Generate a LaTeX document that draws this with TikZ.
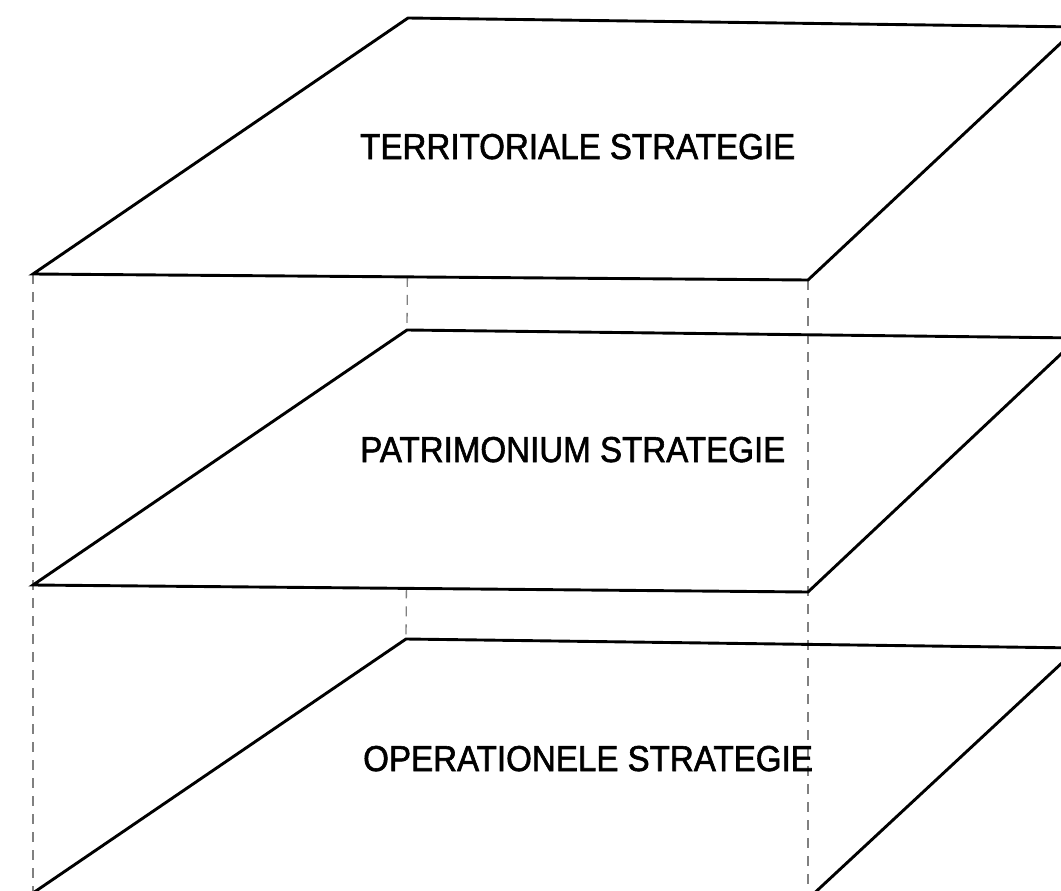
\documentclass[tikz,border=0pt]{standalone}
\usepackage{fontspec}
\newfontfamily\planefont[FakeStretch=0.92,FakeBold=1.6]{Liberation Sans}
\usetikzlibrary{%
	positioning,
	calc
}

\begin{document}
\begin{tikzpicture}[
		x=1pt,y=-1pt,
		plane/.style={draw=black,line width=2.9pt,line join=miter},
		guide/.style={draw=black!50,line width=1.3pt,dash pattern=on 10pt off 8pt},
		title/.style={font=\planefont\fontsize{36}{40}\selectfont,inner sep=0pt,anchor=base west}
	]
	\clip (0,0) rectangle (1061,891);

	% corners of the three planes
	\coordinate (T-tl) at (408,18);
	\coordinate (T-tr) at (1078,27);
	\coordinate (T-br) at (808,280);
	\coordinate (T-bl) at (33,274);

	\coordinate (M-tl) at (407,330);
	\coordinate (M-tr) at (1078,338);
	\coordinate (M-br) at (808,592);
	\coordinate (M-bl) at (33,585);

	\coordinate (B-tl) at (406,639);
	\coordinate (B-tr) at (1078,648);
	\coordinate (B-br) at (808,899);
	\coordinate (B-bl) at (33,893);

	% dashed guides
	\draw[guide] (T-bl) -- (B-bl);
	\draw[guide] (T-br) -- (B-br);
	\draw[guide] ($(T-bl)!(M-tl)!(T-br)$) -- (M-tl);
	\draw[guide] ($(M-bl)!(B-tl)!(M-br)$) -- (B-tl);

	% planes
	\draw[plane] (T-tl) -- (T-tr) -- (T-br) -- (T-bl) -- cycle;
	\draw[plane] (M-tl) -- (M-tr) -- (M-br) -- (M-bl) -- cycle;
	\draw[plane] (B-tl) -- (B-tr) -- (B-br) -- (B-bl) -- cycle;

	\node (T-title) [title] at (360,159) {TERRITORIALE STRATEGIE};
	\node (M-title) [title] at (360,462) {PATRIMONIUM STRATEGIE};
	\node (B-title) [title] at (363,771) {OPERATIONELE STRATEGIE};

\end{tikzpicture}
\end{document}
